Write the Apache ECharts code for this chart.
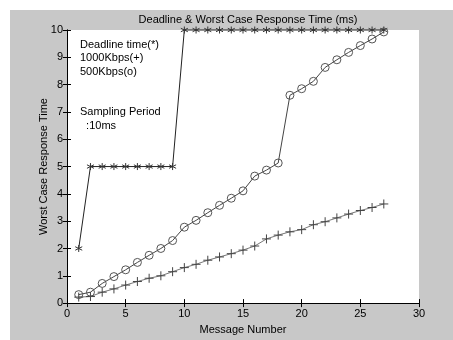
<!DOCTYPE html>
<html><head><meta charset="utf-8">
<script src="https://cdn.jsdelivr.net/npm/echarts@6/dist/echarts.min.js"></script>
<style>html,body{margin:0;padding:0;background:#c8c8c8;}#c{width:453px;height:340px;}</style>
</head><body><div id="c"></div>
<script>
const messages = [1,2,3,4,5,6,7,8,9,10,11,12,13,14,15,16,17,18,19,20,21,22,23,24,25,26,27];
const deadline = [2,5,5,5,5,5,5,5,5,10,10,10,10,10,10,10,10,10,10,10,10,10,10,10,10,10,10];
const kbps1000 = [0.22,0.24,0.40,0.52,0.66,0.79,0.91,1.00,1.15,1.30,1.42,1.57,1.69,1.81,1.94,2.09,2.35,2.49,2.61,2.69,2.87,2.98,3.12,3.26,3.39,3.50,3.63];
const kbps500 = [0.31,0.40,0.72,0.97,1.22,1.49,1.75,2.00,2.29,2.78,3.03,3.31,3.58,3.84,4.11,4.65,4.87,5.13,7.61,7.85,8.12,8.63,8.91,9.18,9.43,9.67,9.93];
const xTicks = [0,5,10,15,20,25,30];
const yTicks = [0,1,2,3,4,5,6,7,8,9,10];
const notes = ['Deadline time(*)','1000Kbps(+)','500Kbps(o)','','','Sampling Period','  :10ms'];

const pair = (ys) => messages.map((m,i)=>[m, ys[i]]);
const chart = echarts.init(document.getElementById('c'));
const font = 'Liberation Sans, Arial, sans-serif';
const star = 'path://M0,-5 L0,5 M-4.3,-2.5 L4.3,2.5 M-4.3,2.5 L4.3,-2.5';
const plus = 'path://M0,-5 L0,5 M-5,0 L5,0';
const axisCommon = {
  axisLine:{show:true, lineStyle:{color:'#000', width:1}},
  axisTick:{show:true, inside:true, length:4, lineStyle:{color:'#000'}},
  splitLine:{show:false},
  axisLabel:{color:'#000', fontFamily:font, fontSize:11}
};
chart.setOption({
  backgroundColor:'#c8c8c8',
  animation:false,
  title:{text:'Deadline & Worst Case Response Time (ms)', left:243, textAlign:'center', top:9,
    textStyle:{fontFamily:font, fontSize:11, fontWeight:'normal', color:'#000'}},
  grid:{left:67, right:34, top:30, bottom:34, show:true, backgroundColor:'#fff', borderWidth:0},
  xAxis:[
    Object.assign({type:'value', min:0, max:30, interval:5, position:'bottom',
      name:'Message Number', nameLocation:'middle', nameGap:16,
      nameTextStyle:{fontFamily:font, fontSize:11, color:'#000'}}, axisCommon,
      {axisLabel:{color:'#000', fontFamily:font, fontSize:11, margin:5}}),
    Object.assign({type:'value', min:0, max:30, interval:5, position:'top'}, axisCommon, {axisLabel:{show:false}})
  ],
  yAxis:[
    Object.assign({type:'value', min:0, max:10, interval:1, position:'left',
      name:'Worst Case Response Time', nameLocation:'middle', nameGap:18, nameMoveOverlap:false,
      nameTextStyle:{fontFamily:font, fontSize:11, color:'#000'}}, axisCommon,
      {axisLabel:{color:'#000', fontFamily:font, fontSize:11, margin:4}}),
    Object.assign({type:'value', min:0, max:10, interval:1, position:'right'}, axisCommon, {axisLabel:{show:false}})
  ],
  graphic:[
    {type:'rect', shape:{x:0,y:0,width:453,height:10}, style:{fill:'#fff'}, z:100},
    {type:'rect', shape:{x:0,y:0,width:10,height:340}, style:{fill:'#fff'}, z:100},
    {type:'text', left:80, top:38, z:100, style:{text:notes.join('\n'), fontFamily:font, fontSize:11, fill:'#000', lineHeight:13.5}}
  ],
  series:[
    {type:'line', data:pair(deadline), symbol:star, symbolSize:7,
      lineStyle:{color:'#222', width:1}, itemStyle:{color:'none', borderColor:'#333', borderWidth:1}, clip:false},
    {type:'line', data:pair(kbps1000), symbol:plus, symbolSize:9,
      lineStyle:{color:'#777', width:1}, itemStyle:{color:'none', borderColor:'#444', borderWidth:1}},
    {type:'line', data:pair(kbps500), symbol:'circle', symbolSize:8,
      lineStyle:{color:'#444', width:1}, itemStyle:{color:'none', borderColor:'#555', borderWidth:1}}
  ]
});
</script></body></html>
